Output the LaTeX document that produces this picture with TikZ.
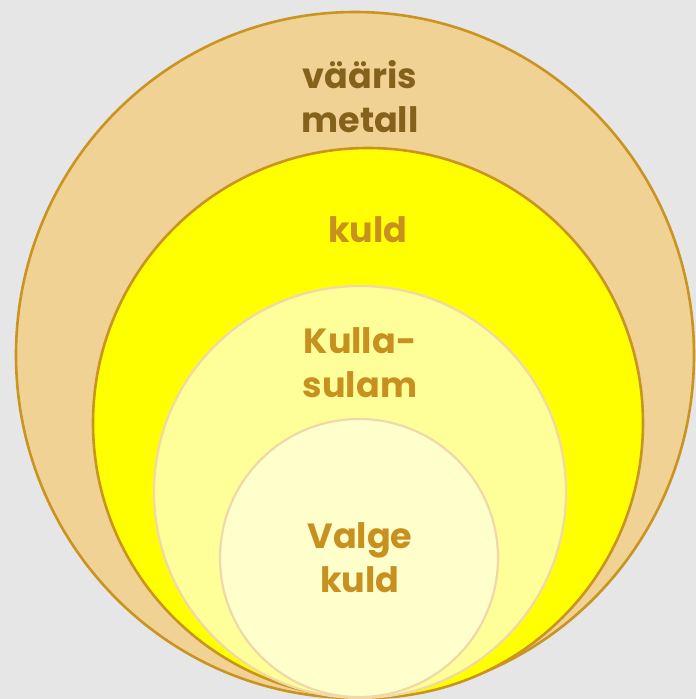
\documentclass[tikz,border=0pt]{standalone}
\usepackage{fontspec}
\setmainfont{Poppins}
\usepackage{tikz}
\usetikzlibrary{positioning}
\definecolor{bggray}{HTML}{E6E6E6}
\definecolor{tan}{HTML}{F0D294}
\definecolor{goldline}{HTML}{C99420}
\definecolor{puregold}{HTML}{FFFF00}
\definecolor{alloy}{HTML}{FFFF99}
\definecolor{whitegold}{HTML}{FFFFCC}
\definecolor{paleline}{HTML}{F0D8A8}
\definecolor{darktext}{HTML}{85621C}
\definecolor{goldtext}{HTML}{C8901E}
\tikzset{
  ring/.style={draw=goldline, line width=2.6pt},
  softring/.style={draw=paleline, line width=2.2pt},
  lbl/.style={font=\fontsize{35}{44}\selectfont\bfseries, align=center, text=goldtext, inner sep=0pt},
}

\begin{document}
\begin{tikzpicture}[x=1pt, y=-1pt]
      \useasboundingbox[fill=bggray] (0,0) rectangle (696,699);

      \draw[ring, fill=tan] (355,355) ellipse [x radius=339, y radius=343];
      \draw[ring, fill=puregold] (368,423) circle [radius=275];
      \draw[softring, fill=alloy] (360,492) circle [radius=206];
      \draw[softring, fill=whitegold] (359,558) circle [radius=139];

      \node[lbl, text=darktext] (metal) at (360,97) {vääris\\metall};
      \node[lbl] (gold) at (368,230) {kuld};
      \node[lbl] (alloyname) at (360,363) {Kulla-\\sulam};
      \node[lbl] (white) at (360,558) {Valge\\kuld};
    \end{tikzpicture}
\end{document}
